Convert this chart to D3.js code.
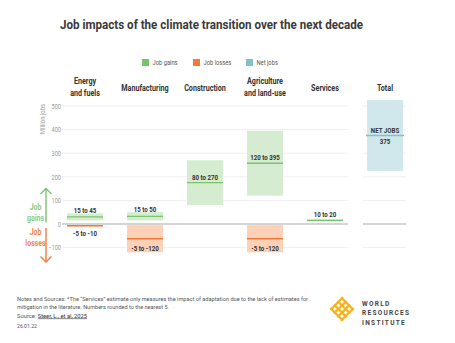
<!DOCTYPE html>
<html>
<head>
<meta charset="utf-8">
<script src="https://cdn.jsdelivr.net/npm/d3@7"></script>
<style>
  body { margin: 0; background: #fff; }
  svg { display: block; }
  text { font-family: Roboto, "Liberation Sans", sans-serif; }
</style>
</head>
<body>
<svg id="chart" width="455" height="343"></svg>
<script>
// chart values
var categories = ["Energy and fuels", "Manufacturing", "Construction", "Agriculture and land-use", "Services", "Total"];
var categoryLines = [["Energy", "and fuels"], ["Manufacturing"], ["Construction"], ["Agriculture", "and land-use"], ["Services"], ["Total"]];
var gainLow = [15, 15, 80, 120, 10];
var gainHigh = [45, 50, 270, 395, 20];
var lossLow = [-5, -5, null, -5, null];
var lossHigh = [-10, -120, null, -120, null];
var netRange = [225, 525];
var netJobs = 375;
var yTicks = [-100, 0, 100, 200, 300, 400, 500];
var legendNames = ["Job gains", "Job losses", "Net jobs"];
var noteLines = [
    "Notes and Sources: *The \u201cServices\u201d estimate only measures the impact of adaptation due to the lack of estimates for",
    "mitigation in the literature. Numbers rounded to the nearest 5."
];

var GAIN = "#7cc36f", GAIN_FILL = "#d5ecd0";
var LOSS = "#f27a36", LOSS_FILL = "#fdd1b8";
var NET = "#82c0cc", NET_FILL = "#d0e7eb";

var svg = d3.select("#chart");

var x = d3.scalePoint().domain(categories).range([85, 385]);
var y = d3.scaleLinear().domain([-100, 500]).range([247.6, 106]);
var bw = 36;

// squeeze text horizontally, the original uses a condensed face
function narrow(sel, k) {
    sel.each(function () {
        var t = d3.select(this);
        var xx = +t.attr("x") || 0, yy = +t.attr("y") || 0;
        t.attr("x", 0).attr("y", 0)
            .attr("transform", "translate(" + xx + "," + yy + ") scale(" + k + ",1)");
    });
}

// title
svg.append("text")
    .attr("x", 60).attr("y", 28.5)
    .attr("font-size", 12.5).attr("font-weight", "bold")
    .attr("fill", "#3a3a3a")
    .attr("textLength", 303).attr("lengthAdjust", "spacingAndGlyphs")
    .text("Job impacts of the climate transition over the next decade");

// legend
var legendColors = [GAIN, LOSS, NET];
var legendX = [142, 193, 246];
var lg = svg.append("g").selectAll("g")
    .data(legendNames)
    .enter().append("g")
    .attr("transform", function (d, i) { return "translate(" + legendX[i] + ",59)"; });
lg.append("rect").attr("width", 7).attr("height", 7)
    .attr("fill", function (d, i) { return legendColors[i]; });
lg.append("text").attr("x", 10.5).attr("y", 6)
    .attr("font-size", 6.8).attr("fill", "#555")
    .text(function (d) { return d; })
    .call(narrow, 0.85);

// category headers
categories.forEach(function (c, i) {
    var lines = categoryLines[i];
    lines.forEach(function (ln, j) {
        svg.append("text")
            .attr("x", x(c))
            .attr("y", (lines.length > 1 ? 83.5 : 90.5) + j * 12)
            .attr("text-anchor", "middle")
            .attr("font-size", 9).attr("font-weight", "bold")
            .attr("fill", "#333")
            .text(ln)
            .call(narrow, 0.8);
    });
});

// grid
var x0 = x(categories[0]) - 23, x1 = x("Services") + 23;
var t0 = x("Total") - 22, t1 = x("Total") + 21;
var grid = svg.append("g");
[[x0, x1], [t0, t1]].forEach(function (seg) {
    grid.selectAll(null)
        .data(yTicks.filter(function (v) { return v !== 0; }))
        .enter().append("line")
        .attr("x1", seg[0]).attr("x2", seg[1])
        .attr("y1", function (v) { return y(v); })
        .attr("y2", function (v) { return y(v); })
        .attr("stroke", "#efefef").attr("stroke-width", 1);
});

// y axis labels
var yAxis = d3.axisLeft(y).tickValues(yTicks).tickSize(0).tickPadding(0);
svg.append("g")
    .attr("transform", "translate(61,0)")
    .call(yAxis)
    .call(function (g) {
        g.select(".domain").remove();
        g.selectAll("text").attr("font-size", 7).attr("fill", "#999")
            .attr("font-family", "Roboto, sans-serif")
            .attr("transform", "scale(0.8,1)");
    });

svg.append("text")
    .attr("transform", "translate(45,119) rotate(-90) scale(0.85,1)")
    .attr("text-anchor", "middle")
    .attr("font-size", 7).attr("fill", "#999")
    .text("Million jobs");

// bars
var sectors = categories.slice(0, 5);
var labelStyle = function (sel) {
    sel.attr("text-anchor", "middle").attr("font-size", 7.5)
        .attr("font-weight", "bold").attr("fill", "#333");
};

sectors.forEach(function (c, i) {
    var cx = x(c);
    var lo = gainLow[i], hi = gainHigh[i], mid = (lo + hi) / 2;
    svg.append("rect")
        .attr("x", cx - bw / 2).attr("width", bw)
        .attr("y", y(hi)).attr("height", y(lo) - y(hi))
        .attr("fill", GAIN_FILL);
    svg.append("line")
        .attr("x1", cx - bw / 2).attr("x2", cx + bw / 2)
        .attr("y1", y(mid)).attr("y2", y(mid))
        .attr("stroke", GAIN).attr("stroke-width", 1.3);
    var tall = y(lo) - y(hi) > 30;
    svg.append("text").call(labelStyle)
        .attr("x", cx)
        .attr("y", tall ? y(mid) - 3 : (y(hi) - y(lo) > -4 ? y(hi) - 2 : y(hi) - 0.5))
        .text(lo + " to " + hi)
        .call(narrow, 0.82);

    if (lossLow[i] !== null) {
        var llo = lossLow[i], lhi = lossHigh[i], lmid = (llo + lhi) / 2;
        svg.append("rect")
            .attr("x", cx - bw / 2).attr("width", bw)
            .attr("y", y(llo)).attr("height", y(lhi) - y(llo))
            .attr("fill", LOSS_FILL);
        svg.append("line")
            .attr("x1", cx - bw / 2).attr("x2", cx + bw / 2)
            .attr("y1", y(lmid)).attr("y2", y(lmid))
            .attr("stroke", LOSS).attr("stroke-width", 1.3);
        var ltall = y(lhi) - y(llo) > 15;
        svg.append("text").call(labelStyle)
            .attr("x", cx)
            .attr("y", ltall ? y(lhi) - 1.5 : y(lhi) + 10)
            .text(llo + " to " + lhi)
            .call(narrow, 0.82);
    }
});

// total net jobs
var tx = x("Total");
svg.append("rect")
    .attr("x", tx - bw / 2).attr("width", bw)
    .attr("y", y(netRange[1])).attr("height", y(netRange[0]) - y(netRange[1]))
    .attr("fill", NET_FILL);
svg.append("line")
    .attr("x1", tx - bw / 2 - 1).attr("x2", tx + bw / 2 + 1)
    .attr("y1", y(netJobs)).attr("y2", y(netJobs))
    .attr("stroke", NET).attr("stroke-width", 1.3);
svg.append("text").call(labelStyle)
    .attr("x", tx).attr("y", y(netJobs) - 2.5).text("NET JOBS")
    .call(narrow, 0.82);
svg.append("text").call(labelStyle)
    .attr("x", tx).attr("y", y(netJobs) + 8.5).text(netJobs)
    .call(narrow, 0.82);

// zero lines
[[x0, x1], [t0, t1]].forEach(function (seg) {
    svg.append("line")
        .attr("x1", seg[0]).attr("x2", seg[1])
        .attr("y1", y(0)).attr("y2", y(0))
        .attr("stroke", "#aaa").attr("stroke-width", 1.2);
});

// gains / losses annotation
function arrow(g, ya, yb, color) {
    var dir = yb < ya ? -1 : 1;
    g.append("line").attr("x1", 46).attr("x2", 46).attr("y1", ya).attr("y2", yb)
        .attr("stroke", color).attr("stroke-width", 1.4);
    g.append("path")
        .attr("d", "M40.5," + (yb - dir * 5.5) + " L46," + yb + " L51.5," + (yb - dir * 5.5))
        .attr("fill", "none").attr("stroke", color).attr("stroke-width", 1.4);
}
var ann = svg.append("g");
arrow(ann, 222.5, 188.5, GAIN);
arrow(ann, 228, 262, LOSS);
var annText = [["Job", 210, "#8dca80"], ["gains", 221, "#8dca80"], ["Job", 235, "#f0874a"], ["losses", 245.5, "#f0874a"]];
ann.selectAll("text")
    .data(annText)
    .enter().append("text")
    .attr("x", 35.5).attr("y", function (d) { return d[1]; })
    .attr("text-anchor", "middle")
    .attr("font-size", 8.5).attr("font-weight", "bold")
    .attr("fill", function (d) { return d[2]; })
    .text(function (d) { return d[0]; })
    .call(narrow, 0.82);

// footer notes
var foot = svg.append("g").attr("font-size", 5.9).attr("fill", "#555");
var noteWidth = [291, 152];
foot.selectAll("text.note")
    .data(noteLines)
    .enter().append("text")
    .attr("class", "note")
    .attr("x", 17).attr("y", function (d, i) { return 300.5 + i * 8.3; })
    .attr("textLength", function (d, i) { return noteWidth[i]; })
    .attr("lengthAdjust", "spacingAndGlyphs")
    .text(function (d) { return d; });
var src = foot.append("text").attr("x", 17).attr("y", 317.5)
    .attr("textLength", 70).attr("lengthAdjust", "spacingAndGlyphs");
src.append("tspan").text("Source: ");
src.append("tspan").attr("text-decoration", "underline").attr("fill", "#333").text("Steer, L., et al, 2025");
foot.append("text").attr("x", 17).attr("y", 327.5)
    .attr("textLength", 20).attr("lengthAdjust", "spacingAndGlyphs")
    .text("26.01.22");

// WRI logo
var logo = svg.append("g").attr("transform", "translate(342,309) rotate(45)");
var lat = [-7.5, -2.5, 2.5, 7.5];
lat.forEach(function (p) {
    logo.append("line").attr("x1", -9).attr("x2", 9).attr("y1", p).attr("y2", p)
        .attr("stroke", "#f5b21a").attr("stroke-width", 2.2);
    logo.append("line").attr("y1", -9).attr("y2", 9).attr("x1", p).attr("x2", p)
        .attr("stroke", "#f5b21a").attr("stroke-width", 2.2);
});
var logoText = ["WORLD", "RESOURCES", "INSTITUTE"];
svg.append("g").selectAll("text")
    .data(logoText)
    .enter().append("text")
    .attr("x", 362).attr("y", function (d, i) { return 305.5 + i * 9.5; })
    .attr("font-family", "'Liberation Serif', 'DejaVu Serif', serif")
    .attr("font-size", 6.5).attr("font-weight", "bold")
    .attr("letter-spacing", 1.3).attr("fill", "#444")
    .text(function (d) { return d; });
</script>
</body>
</html>
